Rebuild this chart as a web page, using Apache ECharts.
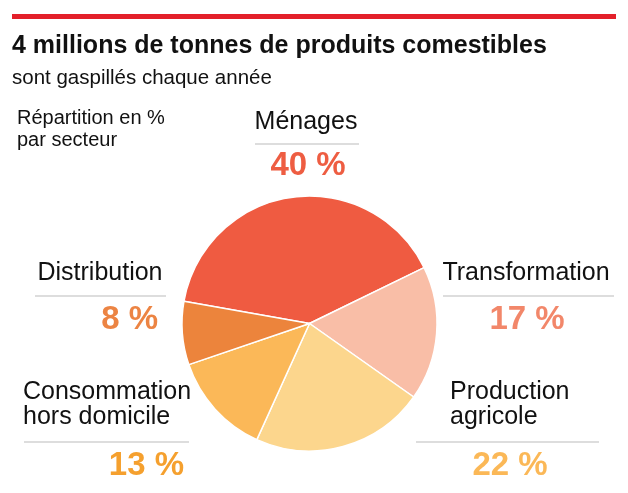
<!DOCTYPE html>
<html>
<head>
<meta charset="utf-8">
<script src="https://cdn.jsdelivr.net/npm/echarts@6/dist/echarts.min.js"></script>
<style>
  html, body { margin: 0; padding: 0; background: #fff; }
  #chart { width: 628px; height: 493px; }
</style>
</head>
<body>
<div id="chart"></div>
<script>
const sectors = ['Ménages', 'Transformation', 'Production\nagricole', 'Consommation\nhors domicile', 'Distribution'];
const shares = [40, 17, 22, 13, 8];
const sliceColors = ['#EF5B41', '#F9BEA7', '#FCD68D', '#FBB858', '#EC843C'];
const valueColors = ['#EE5D42', '#F2876A', '#FBB857', '#F5A02E', '#EC8443'];

// where each label block sits: text anchor, separator line, value anchor
const spots = [
  { tx: 306, ty: 122, align: 'center', lx1: 255, lx2: 359, ly: 144, vx: 308, vy: 166, valign: 'center' },
  { tx: 526, ty: 273, align: 'center', lx1: 443, lx2: 614, ly: 296, vx: 527, vy: 320, valign: 'center' },
  { tx: 450, ty: 405, align: 'left', lx1: 416, lx2: 599, ly: 442, vx: 510, vy: 466, valign: 'center' },
  { tx: 23, ty: 405, align: 'left', lx1: 24, lx2: 189, ly: 442, vx: 184, vy: 466, valign: 'right' },
  { tx: 100, ty: 273, align: 'center', lx1: 35, lx2: 166, ly: 296, vx: 158, vy: 320, valign: 'right' }
];

const chart = echarts.init(document.getElementById('chart'));
const font = '"Liberation Sans", Arial, sans-serif';

const graphics = [
  { type: 'rect', shape: { x: 12, y: 14, width: 604, height: 5 }, style: { fill: '#E3202A' } },
  { type: 'text', x: 12, y: 46, style: { text: '4 millions de tonnes de produits comestibles', font: 'bold 25px ' + font, fill: '#111', textVerticalAlign: 'middle' } },
  { type: 'text', x: 12, y: 78, style: { text: 'sont gaspillés chaque année', font: '20.5px ' + font, fill: '#111', textVerticalAlign: 'middle' } },
  { type: 'text', x: 17, y: 129, style: { text: 'Répartition en %\npar secteur', font: '20px ' + font, lineHeight: 22, fill: '#111', textVerticalAlign: 'middle' } }
];

sectors.forEach((name, i) => {
  const s = spots[i];
  graphics.push(
    { type: 'text', x: s.tx, y: s.ty, style: { text: name, font: '25px ' + font, lineHeight: 25, fill: '#111', textAlign: s.align, textVerticalAlign: 'middle' } },
    { type: 'line', shape: { x1: s.lx1, y1: s.ly, x2: s.lx2, y2: s.ly }, style: { stroke: '#BBBBBB', lineWidth: 1 } },
    { type: 'text', x: s.vx, y: s.vy, style: { text: shares[i] + ' %', font: 'bold 33px ' + font, fill: valueColors[i], textAlign: s.valign, textVerticalAlign: 'middle' } }
  );
});

chart.setOption({
  animation: false,
  graphic: graphics,
  series: [{
    type: 'pie',
    center: [309.5, 323.5],
    radius: [0, 127.5],
    startAngle: 170,
    clockwise: true,
    label: { show: false },
    labelLine: { show: false },
    emphasis: { disabled: true },
    itemStyle: { borderColor: '#fff', borderWidth: 1.5 },
    data: sectors.map((name, i) => ({ name: name, value: shares[i], itemStyle: { color: sliceColors[i] } }))
  }]
});
</script>
</body>
</html>
